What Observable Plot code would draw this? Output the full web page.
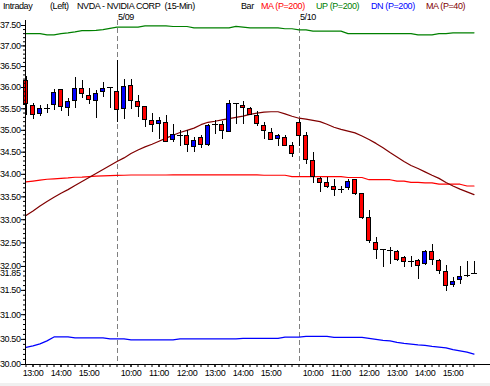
<!DOCTYPE html>
<html><head><meta charset="utf-8">
<script src="https://cdn.jsdelivr.net/npm/d3@7"></script>
<script src="https://cdn.jsdelivr.net/npm/@observablehq/plot@0.6"></script>
<style>
html,body{margin:0;padding:0;background:#f0f0f0;}
#chart svg{display:block;}
#chart svg rect, #chart svg line{shape-rendering:crispEdges;}
</style></head><body><div id="chart"></div>
<script>
const barTime = [
 "12:45","13:00","13:15","13:30","13:45","14:00","14:15","14:30","14:45","15:00","15:15","15:30","15:45",
 "9:30","9:45","10:00","10:15","10:30","10:45","11:00","11:15","11:30","11:45","12:00","12:15","12:30","12:45","13:00","13:15","13:30","13:45","14:00","14:15","14:30","14:45","15:00","15:15","15:30","15:45",
 "9:30","9:45","10:00","10:15","10:30","10:45","11:00","11:15","11:30","11:45","12:00","12:15","12:30","12:45","13:00","13:15","13:30","13:45","14:00","14:15","14:30","14:45","15:00","15:15","15:30","15:45"
];
const openP = [36.16,35.57,35.37,35.50,35.59,35.94,35.52,35.69,35.97,35.81,35.68,35.90,35.99,
 35.90,35.49,36.04,35.66,35.54,35.22,35.14,35.18,34.78,34.89,34.86,34.61,34.82,34.67,35.14,35.13,34.97,35.63,35.57,35.49,35.34,35.11,34.93,34.80,34.83,34.64,
 35.16,34.87,34.29,33.89,33.81,33.72,33.66,33.69,33.87,33.56,33.04,32.50,32.36,32.33,32.31,32.17,32.10,32.11,32.06,32.30,32.11,31.88,31.61,31.71,31.82,31.85];
const highP = [36.27,35.63,35.57,35.59,35.96,35.96,35.73,36.24,36.16,35.97,35.94,36.11,35.99,
 36.64,36.19,36.19,35.81,35.55,35.38,35.30,35.35,35.14,34.99,34.99,34.83,34.87,35.14,35.22,35.20,35.69,35.63,35.67,35.52,35.44,35.18,35.04,34.91,34.87,34.71,
 35.26,34.95,34.49,33.94,33.93,33.89,33.74,33.89,33.89,33.56,33.20,32.62,32.36,32.40,32.33,32.22,32.20,32.15,32.33,32.47,32.15,32.02,31.76,31.99,32.11,32.10];
const lowP = [35.35,35.24,35.32,35.40,35.47,35.44,35.32,35.51,35.73,35.59,35.28,35.77,35.51,
 35.18,35.26,35.49,35.30,35.07,34.95,34.80,34.71,34.71,34.64,34.49,34.49,34.58,34.64,34.91,34.80,34.95,35.14,35.14,35.34,35.08,34.80,34.76,34.63,34.63,34.38,
 34.64,34.23,33.79,33.59,33.69,33.50,33.57,33.65,33.54,33.01,32.49,32.15,31.97,32.05,32.11,31.97,31.97,31.73,32.01,32.01,31.84,31.48,31.55,31.63,31.76,31.85];
const closeP = [35.61,35.35,35.49,35.50,35.87,35.53,35.66,35.97,35.85,35.71,35.85,35.97,35.99,
 35.47,36.02,35.68,35.53,35.24,35.12,35.22,34.74,34.89,34.89,34.66,34.75,34.67,35.11,35.14,34.99,35.61,35.63,35.52,35.36,35.14,34.99,34.78,34.87,34.64,34.46,
 34.87,34.32,33.93,33.81,33.72,33.66,33.66,33.84,33.56,33.04,32.54,32.34,32.36,32.33,32.13,32.10,32.10,32.02,32.31,32.13,31.90,31.59,31.67,31.77,31.82,31.85];
const ma200 = [33.83,33.85,33.87,33.89,33.90,33.91,33.92,33.935,33.94,33.95,33.96,33.965,33.97,
 33.975,33.98,33.985,33.985,33.985,33.985,33.985,33.985,33.99,33.99,33.99,33.99,33.99,33.99,33.99,33.99,33.99,33.99,33.99,33.99,33.99,33.98,33.98,33.98,33.98,33.95,
 33.95,33.95,33.95,33.95,33.95,33.95,33.95,33.93,33.93,33.93,33.88,33.88,33.88,33.88,33.85,33.85,33.82,33.82,33.81,33.81,33.78,33.78,33.78,33.78,33.74,33.74];
const upBand = [37.30,37.30,37.30,37.27,37.27,37.30,37.32,37.345,37.375,37.375,37.38,37.40,37.43,
 37.46,37.46,37.46,37.46,37.49,37.49,37.49,37.49,37.475,37.475,37.475,37.44,37.44,37.44,37.44,37.44,37.44,37.48,37.46,37.44,37.44,37.44,37.44,37.44,37.42,37.42,
 37.39,37.39,37.36,37.36,37.36,37.36,37.36,37.30,37.30,37.30,37.30,37.30,37.30,37.30,37.30,37.30,37.30,37.27,37.27,37.27,37.30,37.30,37.32,37.32,37.32,37.32];
const dnBand = [30.34,30.37,30.41,30.47,30.55,30.55,30.55,30.53,30.53,30.53,30.53,30.53,30.51,
 30.51,30.51,30.49,30.49,30.49,30.49,30.49,30.49,30.49,30.51,30.51,30.51,30.51,30.51,30.51,30.51,30.51,30.51,30.52,30.52,30.52,30.52,30.52,30.52,30.545,30.545,
 30.545,30.56,30.56,30.56,30.56,30.54,30.54,30.54,30.54,30.54,30.52,30.50,30.48,30.47,30.44,30.42,30.405,30.39,30.38,30.36,30.345,30.33,30.295,30.27,30.245,30.205];
const ma40 = [33.09,33.19,33.30,33.40,33.49,33.58,33.66,33.75,33.84,33.93,34.02,34.11,34.20,
 34.29,34.37,34.47,34.55,34.62,34.68,34.75,34.82,34.885,34.95,35.00,35.05,35.13,35.185,35.21,35.24,35.27,35.30,35.33,35.37,35.40,35.42,35.43,35.43,35.38,35.325,
 35.28,35.26,35.23,35.20,35.14,35.07,35.02,34.98,34.94,34.87,34.79,34.70,34.60,34.49,34.39,34.29,34.20,34.13,34.055,33.98,33.91,33.82,33.74,33.67,33.61,33.55];
const sessionDates = ["5/08","5/09","5/10"];
const yTicks = [30.00,30.50,31.00,31.50,32.00,32.50,33.00,33.50,34.00,34.50,35.00,35.50,36.00,36.50,37.00,37.50];
const headerItems = [
 {text:"Intraday", color:"#000000"},
 {text:"(Left)", color:"#000000"},
 {text:"NVDA - NVIDIA CORP\u00a0\u00a0(15-Min)", color:"#000000"},
 {text:"Bar", color:"#000000"},
 {text:"MA (P=200)", color:"#ff0000"},
 {text:"UP (P=200)", color:"#008000"},
 {text:"DN (P=200)", color:"#0000ff"},
 {text:"MA (P=40)", color:"#800000"}
];
const headerX = [3, 50, 77, 241, 261, 316, 371, 426];

const rows = barTime.map((t, i) => ({i, time: t, open: openP[i], high: highP[i], low: lowP[i], close: closeP[i],
  ma200: ma200[i], up: upBand[i], dn: dnBand[i], ma40: ma40[i]}));
const sessionStarts = rows.filter(d => d.time === "9:30").map(d => d.i);
const sessLabels = sessionStarts.map((s, k) => ({i: s, label: sessionDates[k + 1]}));
const hourIdx = rows.filter(d => d.time.endsWith(":00")).map(d => d.i);
const allIdx = rows.map(d => d.i);
const yMinor = d3.range(300, 376).map(v => v / 10);
const last = rows[rows.length - 1];

const chart = Plot.plot({
  width: 490, height: 383,
  marginLeft: 25, marginRight: 0, marginTop: 20, marginBottom: 19,
  x: {domain: [0, 64], range: [25.5, 473.5], label: null},
  y: {type: "log", domain: [30, 37.5], range: [364, 25], label: null},
  style: {fontFamily: "'Liberation Sans', Arial, sans-serif", fontSize: "9px", background: "white", color: "black", letterSpacing: "-0.4px"},
  marks: [
    Plot.ruleX(sessionStarts, {x: d => d, stroke: "#808080", strokeDasharray: "5,3"}),
    Plot.text(sessLabels, {x: "i", text: "label", frameAnchor: "top", textAnchor: "start", lineAnchor: "bottom", dx: 1, dy: -1, fill: "black"}),
    Plot.line(rows, {x: "i", y: "up", stroke: "#008000", strokeWidth: 1.2}),
    Plot.line(rows, {x: "i", y: "dn", stroke: "#0000ff", strokeWidth: 1.2}),
    Plot.line(rows, {x: "i", y: "ma200", stroke: "#ff0000", strokeWidth: 1.2}),
    Plot.line(rows, {x: "i", y: "ma40", stroke: "#800000", strokeWidth: 1.2}),
    Plot.ruleX(rows, {x: "i", y1: "low", y2: "high", stroke: "black"}),
    Plot.rect(rows.filter(d => d.open !== d.close), {
      x1: d => d.i - 0.5, x2: d => d.i + 0.5, insetLeft: 1.5, insetRight: 1.5,
      y1: "open", y2: "close",
      fill: d => d.close > d.open ? "#0000ff" : "#ff0000", stroke: "black"}),
    Plot.ruleY(rows.filter(d => d.open === d.close), {
      y: "open", x1: d => d.i - 0.5, x2: d => d.i + 0.5, insetLeft: 0.5, insetRight: 0.5, stroke: "black"}),
    Plot.axisY(yMinor, {anchor: "left", tickSize: 2, tickFormat: () => ""}),
    Plot.axisY(yTicks, {anchor: "left", tickSize: 4, tickPadding: 1, tickFormat: d => d.toFixed(2)}),
    Plot.text([last], {y: "close", text: d => d.close.toFixed(2), frameAnchor: "left", textAnchor: "end", dx: -5, fill: "black"}),
    Plot.axisX(allIdx, {anchor: "bottom", tickSize: 3, tickFormat: () => ""}),
    Plot.axisX(hourIdx, {anchor: "bottom", tickSize: 3, tickPadding: 2, tickFormat: i => barTime[i]}),
    Plot.frame({anchor: "left"}),
    Plot.frame({anchor: "bottom"})
  ]
});
document.getElementById("chart").appendChild(chart);

const svg = d3.select(chart);
svg.append("g").attr("text-anchor", "start").selectAll("text").data(headerItems).join("text")
  .attr("x", (d, k) => headerX[k]).attr("y", 9)
  .attr("fill", d => d.color)
  .text(d => d.text);
</script>
</body></html>
